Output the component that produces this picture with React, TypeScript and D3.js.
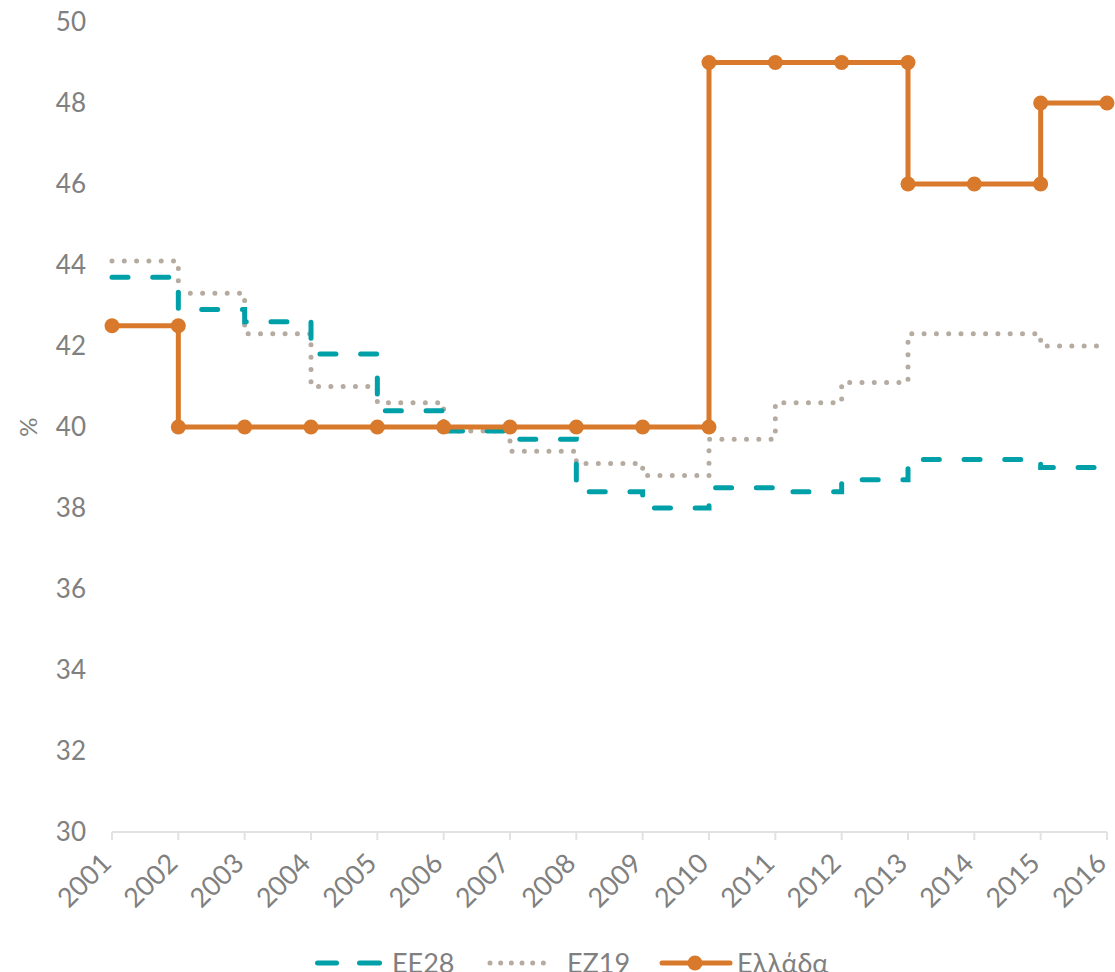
import React from "react";
import * as d3 from "d3";

const years = [2001, 2002, 2003, 2004, 2005, 2006, 2007, 2008, 2009, 2010, 2011, 2012, 2013, 2014, 2015, 2016];
const ee28 = [43.7, 42.9, 42.6, 41.8, 40.4, 39.9, 39.7, 38.4, 38.0, 38.5, 38.4, 38.7, 39.2, 39.2, 39.0, 39.0];
const ez19 = [44.1, 43.3, 42.3, 41.0, 40.6, 39.9, 39.4, 39.1, 38.8, 39.7, 40.6, 41.1, 42.3, 42.3, 42.0, 42.0];
const greece = [42.5, 40, 40, 40, 40, 40, 40, 40, 40, 49, 49, 49, 46, 46, 48, 48];
const yTicks = [30, 32, 34, 36, 38, 40, 42, 44, 46, 48, 50];
const seriesNames = ["EE28", "EZ19", "Ελλάδα"];

const W = 1115, H = 972;
const left = 112, right = 1107, top = 22, bottom = 832;
const FONT = "Lato, 'Open Sans', sans-serif";
const TEXT = "#808080";
const TEAL = "#00A0A8";
const GRAY = "#B5ABA1";
const ORANGE = "#D8792B";

export default function App() {
  const x = d3.scaleLinear().domain([2001, 2016]).range([left, right]);
  const y = d3.scaleLinear().domain([30, 50]).range([bottom, top]);
  const line = d3.line<[number, number]>().x(d => x(d[0])).y(d => y(d[1])).curve(d3.curveStepAfter);
  const pts = (vals: number[]) => years.map((yr, i) => [yr, vals[i]] as [number, number]);

  const gDots: [number, number][] = [];
  years.forEach((yr, i) => {
    gDots.push([yr, greece[i]]);
    if (i < years.length - 1 && greece[i + 1] !== greece[i]) gDots.push([years[i + 1], greece[i]]);
  });

  const legY = 963;
  return (
    <svg width={W} height={H} style={{ position: "absolute", left: 0, top: 0, fontFamily: FONT }}>
      <line x1={x(2001)} x2={x(2016)} y1={y(30)} y2={y(30)} stroke="#e2e2e2" strokeWidth={2} />
      {years.map(yr => (
        <line key={yr} x1={x(yr)} x2={x(yr)} y1={y(30)} y2={y(30) + 8} stroke="#e2e2e2" strokeWidth={2} />
      ))}
      {yTicks.map(t => (
        <text key={t} x={86} y={y(t)} dy="0.36em" textAnchor="end" fontSize={26} fill={TEXT}>{t}</text>
      ))}
      <text transform={`translate(37,${y(40)}) rotate(-90)`} textAnchor="middle" fontSize={24} fill={TEXT}>%</text>
      {years.map(yr => (
        <text key={yr} transform={`translate(${x(yr) + 1},${y(30) + 33}) rotate(-45)`} textAnchor="end" fontSize={27} fill={TEXT}>{yr}</text>
      ))}
      <path d={line(pts(ez19)) || ""} fill="none" stroke={GRAY} strokeWidth={5} strokeLinecap="round" strokeDasharray="0,12.3" />
      <path d={line(pts(ee28)) || ""} fill="none" stroke={TEAL} strokeWidth={5} strokeLinecap="round" strokeDasharray="16,24.7" />
      <path d={line(pts(greece)) || ""} fill="none" stroke={ORANGE} strokeWidth={5} />
      {gDots.map((d, i) => (
        <circle key={i} cx={x(d[0])} cy={y(d[1])} r={7.5} fill={ORANGE} />
      ))}
      {/* legend */}
      <line x1={317.5} x2={336.5} y1={legY} y2={legY} stroke={TEAL} strokeWidth={5} strokeLinecap="round" />
      <line x1={359.5} x2={379.5} y1={legY} y2={legY} stroke={TEAL} strokeWidth={5} strokeLinecap="round" />
      <text x={392} y={legY} dy="0.36em" fontSize={27} fill={TEXT}>{seriesNames[0]}</text>
      <line x1={490} x2={554} y1={legY} y2={legY} stroke={GRAY} strokeWidth={5} strokeLinecap="round" strokeDasharray="0,10.67" />
      <text x={567} y={legY} dy="0.36em" fontSize={27} fill={TEXT}>{seriesNames[1]}</text>
      <line x1={662} x2={730} y1={legY} y2={legY} stroke={ORANGE} strokeWidth={5} strokeLinecap="round" />
      <circle cx={695} cy={legY} r={7.5} fill={ORANGE} />
      <text x={737} y={legY} dy="0.36em" fontSize={27} fill={TEXT}>{seriesNames[2]}</text>
    </svg>
  );
}
